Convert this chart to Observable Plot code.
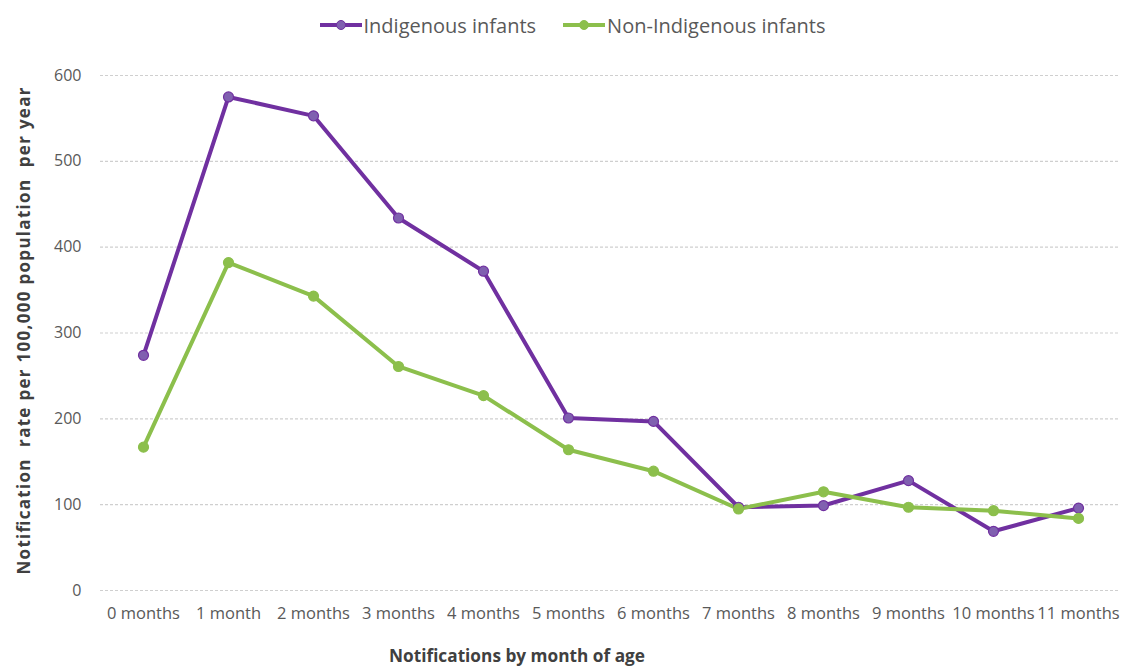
<!DOCTYPE html>
<html><head><meta charset="utf-8">
<script src="https://cdn.jsdelivr.net/npm/d3@7"></script>
<script src="https://cdn.jsdelivr.net/npm/@observablehq/plot@0.6"></script>
<style>
body{margin:0;background:#fff;font-family:"Open Sans",Lato,sans-serif;}
#legend{height:50px;display:flex;align-items:center;justify-content:center;gap:26px;padding-left:10px;box-sizing:border-box;color:#595959;font-size:20px;}
.item{display:flex;align-items:center;gap:1px;}
#chart svg{display:block;}
</style></head><body>
<div id="legend"></div>
<div id="chart"></div>
<script>
const months = ["0 months","1 month","2 months","3 months","4 months","5 months","6 months","7 months","8 months","9 months","10 months","11 months"];
const indigenous = [274,575,553,434,372,201,197,97,99,128,69,96];
const nonIndigenous = [167,382,343,261,227,164,139,95,115,97,93,84];
const seriesNames = ["Indigenous infants","Non-Indigenous infants"];
const seriesColors = ["#7030a0","#8cbf4c"];
const markerColors = ["#8060b0","#8cbf4c"];
const yTicks = [0,100,200,300,400,500,600];
const yTitle = "Notification  rate per 100,000 population  per year";
const xTitle = "Notifications by month of age";

const data = [
  ...months.map((m,i)=>({month:m, value:indigenous[i], series:seriesNames[0]})),
  ...months.map((m,i)=>({month:m, value:nonIndigenous[i], series:seriesNames[1]}))
];

// legend
const legend = d3.select("#legend");
seriesNames.forEach((name,i)=>{
  const it = legend.append("div").attr("class","item");
  const s = it.append("svg").attr("width",44).attr("height",14);
  s.append("line").attr("x1",1).attr("x2",43).attr("y1",7).attr("y2",7).attr("stroke",seriesColors[i]).attr("stroke-width",4);
  s.append("circle").attr("cx",22).attr("cy",7).attr("r",4.5).attr("fill",markerColors[i]).attr("stroke",seriesColors[i]).attr("stroke-width",1);
  it.append("span").text(name);
});

const W = 1134, H = 619;
const plot = Plot.plot({
  width: W, height: H,
  marginTop: 25, marginBottom: 79, marginLeft: 100, marginRight: 14,
  style: {fontFamily: "'Open Sans', Lato, sans-serif", background: "#fff"},
  x: {type: "point", domain: months, padding: 0.5, label: null, tickSize: 0, tickPadding: 17},
  y: {domain: [0,600], ticks: yTicks, label: null, tickSize: 0, tickPadding: 19},
  color: {domain: seriesNames, range: seriesColors},
  marks: [
    Plot.ruleY(yTicks, {stroke: "#cfcfcf", strokeDasharray: "3,2", strokeWidth: 1.2}),
    Plot.line(data, {x: "month", y: "value", stroke: "series", strokeWidth: 4, strokeLinejoin: "round"}),
    Plot.dot(data, {x: "month", y: "value", r: 5, fill: d => markerColors[seriesNames.indexOf(d.series)], stroke: "series", strokeWidth: 1.2})
  ]
});
document.getElementById("chart").appendChild(plot);
const svg = d3.select(plot);
svg.selectAll("[aria-label='x-axis tick label']").attr("fill","#595959").attr("font-size","16.5");
svg.selectAll("[aria-label='y-axis tick label']").attr("fill","#595959").attr("font-size","16");
svg.append("text").text(yTitle)
  .attr("transform","translate(30,281) rotate(-90)")
  .attr("text-anchor","middle").attr("font-weight","bold").attr("font-size","17")
  .attr("fill","#404040").attr("textLength",487).attr("lengthAdjust","spacing")
  .style("white-space","pre");
svg.append("text").text(xTitle)
  .attr("x",517).attr("y",612)
  .attr("text-anchor","middle").attr("font-weight","bold").attr("font-size","17")
  .attr("fill","#404040").attr("textLength",256).attr("lengthAdjust","spacingAndGlyphs").style("white-space","pre");
</script>
</body></html>
